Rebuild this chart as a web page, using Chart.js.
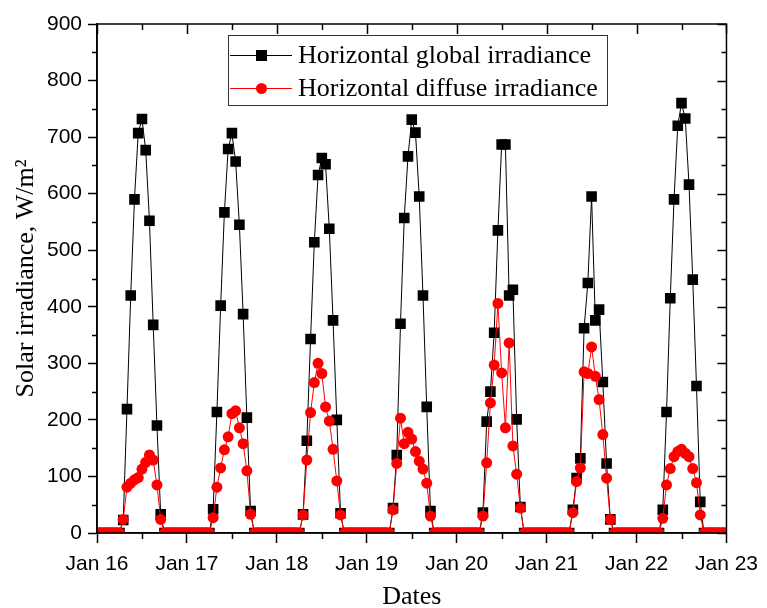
<!DOCTYPE html>
<html>
<head>
<meta charset="utf-8">
<script src="https://cdn.jsdelivr.net/npm/chart.js@4"></script>
<style>
  html, body { margin: 0; padding: 0; background: #fff; }
</style>
</head>
<body>
<canvas id="solarChart" width="767" height="608"></canvas>
<script>
// hourly readings, W/m2, hour 0..23 of each day
const globalJan16  = [0,0,0,0,0,0,0, 23,219,420,590,707,732,677,552,368,190,33, 0,0,0,0,0,0];
const globalJan17  = [0,0,0,0,0,0,0, 42,214,402,567,679,707,657,545,387,204,39, 0,0,0,0,0,0];
const globalJan18  = [0,0,0,0,0,0,0, 33,163,343,514,633,663,652,538,376,200,35, 0,0,0,0,0,0];
const globalJan19  = [0,0,0,0,0,0,0, 44,138,370,557,666,731,708,595,420,223,39, 0,0,0,0,0,0];
const globalJan20  = [0,0,0,0,0,0,0, 36,197,250,354,535,687,687,420,430,201,46, 0,0,0,0,0,0];
const globalJan21  = [0,0,0,0,0,0,0, 41,97,132,362,442,595,376,395,267,123,24, 0,0,0,0,0,0];
const globalJan22  = [0,0,0,0,0,0,0, 41,214,415,590,720,760,733,616,448,260,55, 0,0,0,0,0,0];
const globalJan23  = [0];

const diffuseJan16 = [0,0,0,0,0,0,0, 24,81,88,94,98,113,125,138,129,85,24, 0,0,0,0,0,0];
const diffuseJan17 = [0,0,0,0,0,0,0, 27,81,115,147,170,211,216,186,158,110,33, 0,0,0,0,0,0];
const diffuseJan18 = [0,0,0,0,0,0,0, 32,129,213,266,300,282,223,198,148,92,32, 0,0,0,0,0,0];
const diffuseJan19 = [0,0,0,0,0,0,0, 41,123,203,158,178,166,144,127,113,88,30, 0,0,0,0,0,0];
const diffuseJan20 = [0,0,0,0,0,0,0, 30,124,230,297,406,283,186,336,154,104,44, 0,0,0,0,0,0];
const diffuseJan21 = [0,0,0,0,0,0,0, 36,91,115,285,282,329,277,236,174,97,24, 0,0,0,0,0,0];
const diffuseJan22 = [0,0,0,0,0,0,0, 26,85,114,135,144,148,141,135,114,89,32, 0,0,0,0,0,0];
const diffuseJan23 = [0];

const dayLabels = ["Jan 16", "Jan 17", "Jan 18", "Jan 19", "Jan 20", "Jan 21", "Jan 22", "Jan 23"];
const seriesNames = ["Horizontal global irradiance", "Horizontal diffuse irradiance"];

const hourlyGlobal = [].concat(globalJan16, globalJan17, globalJan18, globalJan19,
                               globalJan20, globalJan21, globalJan22, globalJan23);
const hourlyDiffuse = [].concat(diffuseJan16, diffuseJan17, diffuseJan18, diffuseJan19,
                                diffuseJan20, diffuseJan21, diffuseJan22, diffuseJan23);

const toPoints = arr => arr.map((v, h) => ({ x: h, y: v }));

//------------frame, minor and mirror ticks-------------
const frameTicks = {
  id: 'frameTicks',
  afterDatasetsDraw(chart) {
    const { ctx, chartArea: a, scales: { x, y } } = chart;
    ctx.save();
    ctx.strokeStyle = '#000';
    ctx.lineWidth = 1.5;
    ctx.strokeRect(a.left, a.top, a.right - a.left, a.bottom - a.top);
    ctx.beginPath();
    for (let v = 0; v <= 900; v += 50) {
      const py = Math.round(y.getPixelForValue(v)) + 0.5;
      const major = v % 100 === 0;
      if (!major) { ctx.moveTo(a.left - 5, py); ctx.lineTo(a.left, py); }
      ctx.moveTo(a.right, py); ctx.lineTo(a.right - (major ? 9 : 5), py);
    }
    for (let h = 0; h <= 168; h += 12) {
      const px = Math.round(x.getPixelForValue(h)) + 0.5;
      const major = h % 24 === 0;
      if (!major) { ctx.moveTo(px, a.bottom); ctx.lineTo(px, a.bottom + 6); }
      ctx.moveTo(px, a.top); ctx.lineTo(px, a.top + (major ? 10 : 6));
    }
    ctx.stroke();
    ctx.restore();
  }
};

//------------legend box inside the plot-------------
const boxLegend = {
  id: 'boxLegend',
  afterDraw(chart) {
    const { ctx, chartArea: a } = chart;
    const left = a.left + 131, top = a.top + 11, w = 379, h = 70;
    ctx.save();
    ctx.fillStyle = '#fff';
    ctx.fillRect(left, top, w, h);
    ctx.strokeStyle = '#333';
    ctx.lineWidth = 1;
    ctx.strokeRect(left + 0.5, top + 0.5, w, h);
    chart.data.datasets.forEach((ds, i) => {
      const cy = top + 20 + i * 33;
      ctx.strokeStyle = ds.borderColor;
      ctx.lineWidth = 1;
      ctx.beginPath();
      ctx.moveTo(left + 2, cy + 0.5);
      ctx.lineTo(left + 64, cy + 0.5);
      ctx.stroke();
      ctx.fillStyle = ds.backgroundColor;
      if (ds.pointStyle === 'rect') {
        ctx.fillRect(left + 28, cy - 5, 11, 11);
      } else {
        ctx.beginPath();
        ctx.arc(left + 33.5, cy + 0.5, 5.5, 0, Math.PI * 2);
        ctx.fill();
      }
      ctx.fillStyle = '#000';
      ctx.font = '26px "Liberation Serif", "Times New Roman", serif';
      ctx.textBaseline = 'middle';
      ctx.fillText(ds.label, left + 70, cy + 1);
    });
    ctx.restore();
  }
};

const solarChart = new Chart(document.getElementById('solarChart'), {
  type: 'line',
  data: {
    datasets: [{
      label: seriesNames[0],
      data: toPoints(hourlyGlobal),
      borderColor: '#000',
      backgroundColor: '#000',
      borderWidth: 1,
      pointStyle: 'rect',
      pointRadius: 7.5,
      pointBorderWidth: 0,
      tension: 0,
      order: 1
    }, {
      label: seriesNames[1],
      data: toPoints(hourlyDiffuse),
      borderColor: '#ff0000',
      backgroundColor: '#ff0000',
      borderWidth: 1,
      pointStyle: 'circle',
      pointRadius: 5.5,
      pointBorderWidth: 0,
      tension: 0,
      order: 0
    }]
  },
  options: {
    responsive: false,
    animation: false,
    devicePixelRatio: 1,
    layout: { padding: { top: 24, right: 35, bottom: 0, left: 0 } },
    plugins: { legend: { display: false }, tooltip: { enabled: false } },
    scales: {
      x: {
        type: 'linear',
        min: 0,
        max: 168,
        afterFit(scale) { scale.height = 75; },
        ticks: {
          stepSize: 24,
          autoSkip: false,
          maxRotation: 0,
          padding: 9,
          color: '#000',
          font: { family: '"Liberation Sans", Arial, sans-serif', size: 21 },
          callback: v => dayLabels[v / 24]
        },
        grid: { drawOnChartArea: false, tickLength: 10, tickColor: '#000', tickWidth: 1.5 },
        border: { color: '#000', width: 1.5 },
        title: {
          display: true,
          text: 'Dates',
          color: '#000',
          font: { family: '"Liberation Serif", "Times New Roman", serif', size: 26, lineHeight: 0.8 },
          padding: { top: 0, bottom: 0 }
        }
      },
      y: {
        min: 0,
        max: 900,
        afterFit(scale) { scale.width = 97; },
        ticks: {
          stepSize: 100,
          padding: 6,
          color: '#000',
          font: { family: '"Liberation Sans", Arial, sans-serif', size: 21 }
        },
        grid: { drawOnChartArea: false, tickLength: 9, tickColor: '#000', tickWidth: 1.5 },
        border: { color: '#000', width: 1.5 },
        title: {
          display: true,
          text: 'Solar irradiance, W/m²',
          color: '#000',
          font: { family: '"Liberation Serif", "Times New Roman", serif', size: 26, lineHeight: 1.2 },
          padding: { top: 11, bottom: 0 }
        }
      }
    }
  },
  plugins: [frameTicks, boxLegend]
});
</script>
</body>
</html>
